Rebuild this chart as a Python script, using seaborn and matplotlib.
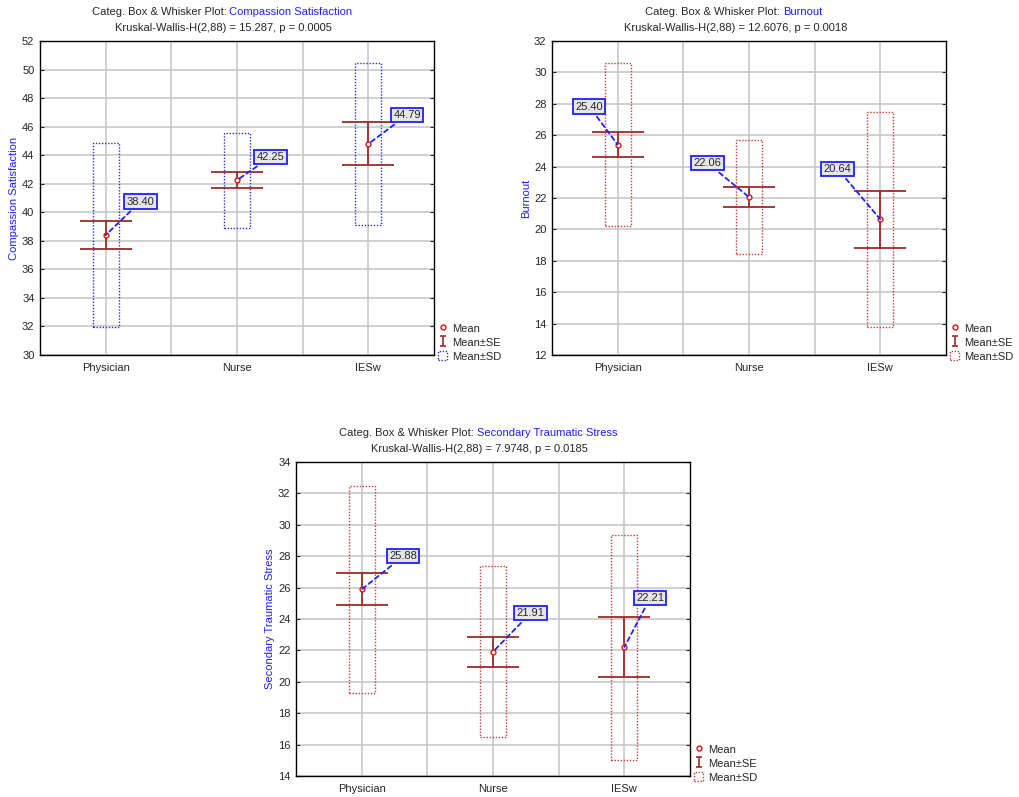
import numpy as np
import pandas as pd
import matplotlib
matplotlib.use("Agg")
import matplotlib.pyplot as plt
import seaborn as sns
from matplotlib.lines import Line2D
from matplotlib.patches import Patch
from matplotlib.path import Path

# data
groups = ["Physician", "Nurse", "IESw"]

cs_mean = [38.40, 42.25, 44.79]
cs_se = [1.00, 0.58, 1.51]
cs_sd = [6.47, 3.33, 5.69]

bo_mean = [25.40, 22.06, 20.64]
bo_se = [0.80, 0.64, 1.83]
bo_sd = [5.18, 3.62, 6.84]

sts_mean = [25.88, 21.91, 22.21]
sts_se = [1.02, 0.97, 1.91]
sts_sd = [6.57, 5.44, 7.16]

cs_stat = "Kruskal-Wallis-H(2,88) = 15.287, p = 0.0005"
bo_stat = "Kruskal-Wallis-H(2,88) = 12.6076, p = 0.0018"
sts_stat = "Kruskal-Wallis-H(2,88) = 7.9748, p = 0.0185"

# colours / style
BLUE = "#1f1fff"
SD_BLUE = "#3030c8"
SD_RED = "#c83c3c"
SE_RED = "#9e2a2a"
MEAN_RED = "#e01010"
GRID = "#c8c8c8"
FS = 8

sns.set_style("white")
plt.rcParams["font.family"] = ["Liberation Sans", "DejaVu Sans"]

fig = plt.figure(figsize=(10.2, 7.97), dpi=100)

# I-beam marker for the Mean±SE legend entry
ibeam = Path([(-0.5, 1), (0.5, 1), (0, 1), (0, -1), (-0.5, -1), (0.5, -1)],
             [Path.MOVETO, Path.LINETO, Path.MOVETO, Path.LINETO,
              Path.MOVETO, Path.LINETO])

titles = []


def panel(rect, name, stat, means, ses, sds, ylim, sd_color, dx, dy, ha):
    ax = fig.add_axes(rect)
    df = pd.DataFrame({"group": groups, "mean": means})
    x = np.arange(len(groups))

    # SD boxes
    ax.bar(x, 2 * np.array(sds), bottom=np.array(means) - np.array(sds),
           width=0.2, fill=False, edgecolor=sd_color, linestyle=(0, (1, 1.2)),
           linewidth=1.0, zorder=1.5)
    # SE whiskers
    ax.errorbar(x, means, yerr=ses, fmt="none", ecolor=SE_RED, elinewidth=1.3,
                capsize=18.7, capthick=1.3, zorder=1.8)
    # means
    sns.pointplot(data=df, x="group", y="mean", order=groups, errorbar=None,
                  linestyle="none", marker="o", color=MEAN_RED,
                  markersize=3.5, markeredgewidth=1.0,
                  markerfacecolor="white", ax=ax)

    # value labels
    for i, m in enumerate(means):
        ax.annotate(f"{m:.2f}", xy=(i, m), xytext=(i + dx[i], m + dy[i]),
                    ha=ha, va="bottom", fontsize=FS, zorder=6,
                    bbox=dict(boxstyle="square,pad=0.2", fc="#e6e6e6",
                              ec=BLUE, lw=1.3),
                    arrowprops=dict(arrowstyle="-", color=BLUE, lw=1.3,
                                    linestyle=(0, (2.5, 2)),
                                    shrinkA=2, shrinkB=0))

    ax.set_xlim(-0.5, 2.5)
    ax.set_ylim(*ylim)
    ax.set_yticks(np.arange(ylim[0], ylim[1] + 0.1, 2))
    ax.set_xticks(x)
    ax.set_xticklabels(groups)
    ax.set_xticks([0.5, 1.5], minor=True)
    ax.grid(True, which="major", color=GRID, lw=1.2, zorder=0)
    ax.grid(True, which="minor", axis="x", color=GRID, lw=1.2, zorder=0)
    ax.set_axisbelow(True)
    ax.tick_params(axis="y", which="both", direction="in", length=3,
                   left=True, right=True, labelsize=FS, pad=4)
    ax.tick_params(axis="x", which="both", length=0, labelsize=FS, pad=6)
    ax.set_xlabel("")
    ax.set_ylabel(name, color=BLUE, fontsize=FS, labelpad=2)
    for s in ax.spines.values():
        s.set_color("black")
        s.set_linewidth(1.0)

    # two-tone title
    t1 = ax.text(0.0, 1.091, "Categ. Box & Whisker Plot: ", transform=ax.transAxes,
                 ha="left", va="center", fontsize=FS)
    t2 = ax.annotate(name, xy=(1, 0), xycoords=t1, ha="left", va="bottom",
                     color=BLUE, fontsize=FS)
    ax.text(0.465, 1.040, stat, transform=ax.transAxes, ha="center",
            va="center", fontsize=FS)
    titles.append((ax, t1, t2))

    # legend
    handles = [
        Line2D([], [], marker="o", ls="", mec=MEAN_RED, mfc="white",
               markersize=3.5, mew=1.0),
        Line2D([], [], marker=ibeam, ls="", color=SE_RED, mfc="none",
               markersize=7.5, mew=1.2),
        Patch(fill=False, edgecolor=sd_color, linestyle=(0, (1, 1.2)), lw=1.0),
    ]
    ax.legend(handles, ["Mean", "Mean±SE", "Mean±SD"], loc="lower left",
              bbox_to_anchor=(1.0, -0.035), frameon=False, fontsize=FS,
              borderpad=0.1, handlelength=0.8, handleheight=0.9,
              handletextpad=0.4, labelspacing=0.32, borderaxespad=0.3)
    return ax


W = 394 / 1020
H = 314 / 797
panel([40 / 1020, 1 - 355 / 797, W, H], "Compassion Satisfaction", cs_stat,
      cs_mean, cs_se, cs_sd, (30, 52), SD_BLUE,
      [0.16, 0.15, 0.19], [2.0, 1.27, 1.67], "left")
panel([552 / 1020, 1 - 355 / 797, W, H], "Burnout", bo_stat,
      bo_mean, bo_se, bo_sd, (12, 32), SD_RED,
      [-0.11, -0.21, -0.22], [2.1, 1.85, 2.9], "right")
panel([296 / 1020, 1 - 776 / 797, W, H], "Secondary Traumatic Stress", sts_stat,
      sts_mean, sts_se, sts_sd, (14, 34), SD_RED,
      [0.21, 0.18, 0.09], [1.8, 2.15, 2.8], "left")

# centre the two-tone first title line
fig.canvas.draw()
r = fig.canvas.get_renderer()
for ax, t1, t2 in titles:
    w = t1.get_window_extent(r).width + t2.get_window_extent(r).width
    t1.set_x(0.462 - w / ax.bbox.width / 2)

fig.savefig("out.png", dpi=100)
